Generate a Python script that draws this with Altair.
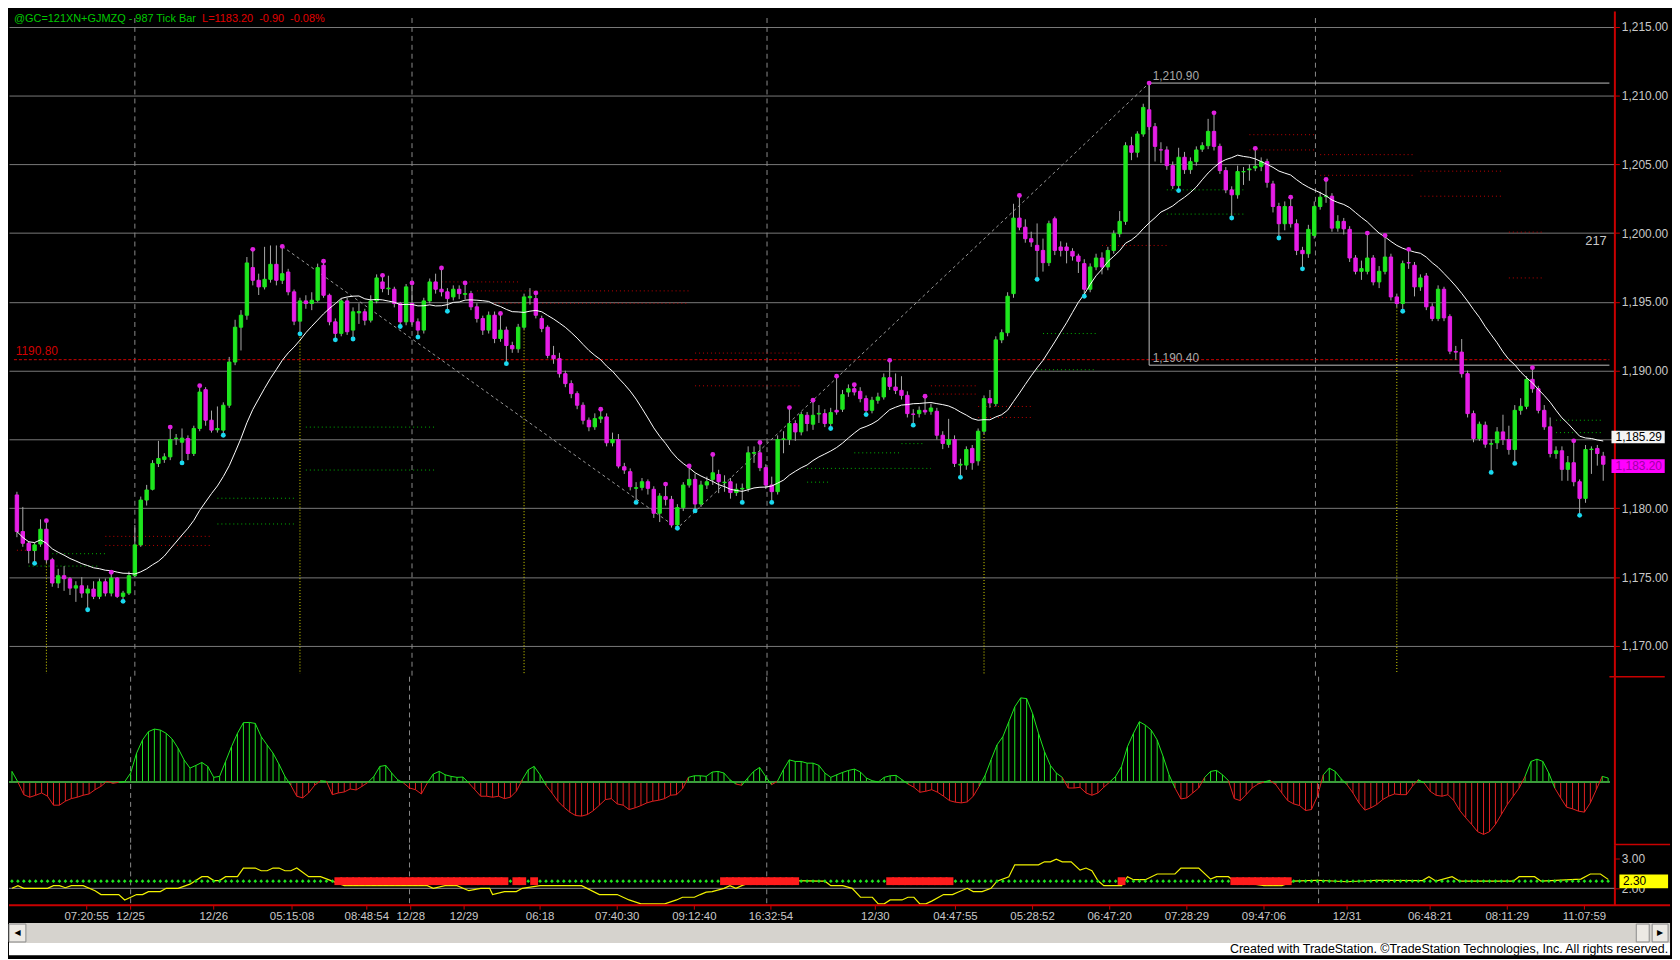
import altair as alt
import pandas as pd

# ---------------- data ----------------
OPEN = [1180.97, 1178.31, 1177.46, 1176.93, 1177.4, 1178.48, 1176.26, 1174.57, 1175.1, 1174.88,
        1174.2, 1174.37, 1173.84, 1174.13, 1173.6, 1174.66, 1173.84, 1174.93, 1173.6, 1173.84,
        1175.1, 1177.34, 1180.6, 1181.38, 1183.26, 1183.55, 1183.74, 1185.07, 1184.8, 1185.07,
        1183.98, 1185.8, 1188.62, 1186.4, 1185.7, 1185.68, 1187.49, 1190.63, 1193.16, 1194.03,
        1197.49, 1196.57, 1196.09, 1196.64, 1197.73, 1196.57, 1197.17, 1195.73, 1193.6, 1195.07,
        1194.88, 1195.12, 1197.66, 1195.48, 1193.55, 1192.71, 1195.07, 1192.95, 1194.2, 1194.28,
        1193.67, 1195.07, 1196.45, 1195.95, 1195.92, 1194.88, 1193.55, 1194.88, 1193.55, 1192.95,
        1195.07, 1196.45, 1195.92, 1195.73, 1195.36, 1195.92, 1195.55, 1195.6, 1194.64, 1193.79,
        1192.95, 1194.03, 1192.34, 1192.95, 1191.83, 1191.59, 1193.16, 1195.3, 1195.24, 1193.79,
        1193.16, 1191.11, 1190.87, 1189.78, 1189.06, 1188.33, 1187.49, 1186.4, 1185.92, 1186.5,
        1186.64, 1184.76, 1185.0, 1183.02, 1182.66, 1181.45, 1181.52, 1181.93, 1181.38, 1179.64,
        1180.85, 1180.65, 1178.79, 1180.05, 1181.69, 1182.1, 1180.31, 1181.69, 1182.1, 1182.46,
        1181.86, 1181.93, 1181.14, 1181.4, 1181.45, 1184.0, 1184.03, 1182.95, 1181.69, 1181.21,
        1185.0, 1185.0, 1186.16, 1185.55, 1186.76, 1186.11, 1186.85, 1186.88, 1186.16, 1187.12,
        1187.2, 1188.45, 1188.69, 1188.5, 1187.97, 1187.12, 1187.85, 1188.09, 1189.49, 1188.81,
        1188.57, 1188.21, 1186.85, 1186.88, 1187.12, 1187.05, 1187.05, 1185.31, 1184.64, 1185.0,
        1183.14, 1183.14, 1184.35, 1183.45, 1185.6, 1187.97, 1187.61, 1192.24, 1192.76, 1195.6,
        1201.09, 1200.43, 1199.59, 1199.11, 1198.74, 1197.85, 1201.04, 1198.99, 1198.99, 1198.67,
        1198.33, 1197.78, 1195.92, 1197.54, 1198.19, 1197.54, 1198.74, 1199.95, 1200.85, 1206.35,
        1205.87, 1207.2, 1208.96, 1207.73, 1206.05, 1206.04, 1204.9, 1203.45, 1205.51, 1204.61,
        1205.19, 1206.1, 1206.35, 1207.39, 1206.3, 1204.54, 1203.14, 1202.78, 1204.45, 1204.6,
        1204.73, 1204.85, 1205.19, 1203.57, 1201.93, 1200.68, 1201.93, 1200.68, 1198.74, 1198.5,
        1199.83, 1201.93, 1202.65, 1202.68, 1200.36, 1200.85, 1200.27, 1198.19, 1197.22, 1197.22,
        1198.19, 1196.45, 1197.22, 1198.26, 1195.36, 1194.88, 1197.85, 1197.66, 1196.09, 1196.88,
        1194.64, 1193.79, 1195.92, 1193.93, 1191.4, 1191.35, 1189.78, 1186.88, 1185.07, 1186.04,
        1184.66, 1184.76, 1185.55, 1185.0, 1184.27, 1187.12, 1187.41, 1189.37, 1188.69, 1187.12,
        1185.92, 1183.98, 1184.18, 1182.83, 1183.31, 1181.93, 1180.72, 1184.27, 1184.35, 1183.79]

HIGH = [1181.2, 1180.1, 1177.6, 1177.5, 1179.2, 1179.1, 1176.4, 1175.6, 1175.8, 1175.0,
        1174.7, 1175.0, 1174.4, 1174.7, 1174.9, 1174.9, 1175.35, 1175.0, 1174.0, 1175.4,
        1178.79, 1180.85, 1181.7, 1183.5, 1184.9, 1184.0, 1185.9, 1185.4, 1185.8, 1185.3,
        1186.0, 1188.91, 1188.8, 1187.1, 1187.4, 1187.7, 1191.0, 1193.7, 1194.4, 1198.26,
        1198.82, 1197.05, 1199.0, 1199.1, 1199.1, 1199.03, 1197.4, 1195.9, 1195.3, 1195.48,
        1195.7, 1197.78, 1197.95, 1195.6, 1193.8, 1195.24, 1195.3, 1194.6, 1194.9, 1194.5,
        1195.48, 1197.0, 1196.93, 1196.9, 1196.1, 1195.0, 1196.3, 1196.38, 1193.8, 1195.3,
        1196.7, 1197.05, 1197.46, 1196.0, 1196.2, 1196.2, 1196.38, 1195.8, 1194.9, 1194.0,
        1194.3, 1194.3, 1194.16, 1193.2, 1192.1, 1193.4, 1195.6, 1196.0, 1195.65, 1194.0,
        1193.3, 1191.8, 1191.3, 1190.0, 1189.3, 1188.5, 1187.7, 1186.6, 1186.9, 1187.2,
        1186.9, 1185.5, 1185.4, 1183.3, 1182.9, 1181.9, 1182.2, 1182.1, 1181.6, 1181.1,
        1181.76, 1180.9, 1180.3, 1181.9, 1183.07, 1182.5, 1182.0, 1182.3, 1183.91, 1182.8,
        1182.4, 1182.2, 1181.8, 1181.8, 1184.5, 1184.5, 1184.78, 1183.2, 1182.3, 1185.3,
        1185.6, 1187.32, 1186.4, 1187.0, 1187.0, 1187.85, 1187.5, 1187.2, 1187.3, 1189.6,
        1188.6, 1189.0, 1188.98, 1188.8, 1188.2, 1188.1, 1188.4, 1189.8, 1190.75, 1189.8,
        1189.6, 1188.5, 1187.2, 1187.4, 1188.14, 1187.6, 1187.3, 1185.6, 1186.5, 1185.3,
        1183.6, 1184.5, 1184.6, 1185.8, 1188.2, 1188.6, 1192.5, 1193.0, 1195.7, 1202.13,
        1202.73, 1201.0, 1200.1, 1200.7, 1199.6, 1200.9, 1201.2, 1199.4, 1199.3, 1198.9,
        1198.5, 1198.1, 1197.8, 1198.5, 1198.6, 1199.0, 1200.2, 1201.6, 1206.6, 1207.0,
        1207.4, 1209.4, 1210.9, 1208.0, 1206.6, 1206.3, 1205.2, 1206.2, 1205.9, 1205.5,
        1206.3, 1206.6, 1208.3, 1208.74, 1206.5, 1204.8, 1203.4, 1204.9, 1204.8, 1205.0,
        1206.16, 1205.5, 1205.4, 1203.8, 1202.2, 1202.3, 1202.61, 1201.0, 1199.0, 1200.6,
        1202.3, 1203.0, 1203.89, 1202.9, 1201.3, 1201.1, 1200.5, 1198.4, 1198.0, 1200.0,
        1198.4, 1197.6, 1199.83, 1198.5, 1195.6, 1198.0, 1198.82, 1197.9, 1197.0, 1197.1,
        1194.9, 1196.2, 1196.1, 1194.1, 1191.8, 1192.3, 1190.0, 1187.1, 1186.3, 1186.3,
        1185.0, 1185.9, 1186.8, 1186.0, 1187.5, 1188.0, 1189.6, 1190.22, 1188.9, 1187.5,
        1186.6, 1184.5, 1184.5, 1183.8, 1184.9, 1182.1, 1184.6, 1184.5, 1184.6, 1184.1]

LOW = [1177.9, 1177.2, 1176.0, 1176.0, 1177.2, 1176.0, 1174.3, 1174.2, 1174.0, 1173.7,
       1173.2, 1173.5, 1172.63, 1173.4, 1173.4, 1173.6, 1173.6, 1173.48, 1173.24, 1173.7,
       1175.0, 1177.2, 1180.2, 1181.3, 1183.0, 1183.3, 1183.5, 1184.6, 1183.3, 1183.5,
       1183.8, 1185.6, 1186.0, 1185.5, 1185.5, 1185.31, 1187.3, 1190.4, 1191.47, 1193.7,
       1196.2, 1195.5, 1195.9, 1196.4, 1196.2, 1196.3, 1195.48, 1193.31, 1192.68, 1194.5,
       1194.4, 1195.0, 1195.3, 1193.3, 1192.24, 1192.5, 1192.6, 1192.3, 1193.4, 1193.3,
       1193.5, 1194.9, 1195.7, 1195.5, 1194.6, 1193.21, 1193.3, 1193.3, 1192.44, 1192.7,
       1194.9, 1195.6, 1195.4, 1194.32, 1195.1, 1195.2, 1195.2, 1194.4, 1193.5, 1192.6,
       1192.7, 1192.0, 1192.1, 1190.51, 1191.3, 1191.3, 1193.0, 1194.8, 1193.8, 1192.8,
       1190.9, 1190.5, 1189.5, 1188.8, 1188.0, 1187.2, 1186.1, 1185.6, 1185.7, 1186.2,
       1184.5, 1184.5, 1182.9, 1182.5, 1181.3, 1180.43, 1181.3, 1181.0, 1179.3, 1179.0,
       1180.2, 1178.6, 1178.55, 1179.8, 1181.5, 1179.81, 1180.1, 1181.4, 1181.7, 1181.1,
       1181.2, 1180.7, 1180.9, 1180.43, 1181.2, 1183.3, 1182.7, 1181.4, 1180.43, 1181.0,
       1184.0, 1184.6, 1184.9, 1185.3, 1185.6, 1185.7, 1186.2, 1185.9, 1185.8, 1186.8,
       1187.0, 1188.1, 1188.2, 1187.7, 1186.81, 1186.9, 1187.6, 1187.9, 1188.6, 1188.3,
       1187.9, 1186.6, 1186.04, 1186.6, 1186.8, 1186.8, 1185.0, 1184.3, 1184.4, 1183.0,
       1182.25, 1182.8, 1182.8, 1183.1, 1185.4, 1187.3, 1187.4, 1192.0, 1192.5, 1195.3,
       1200.2, 1199.3, 1199.0, 1196.64, 1197.2, 1197.6, 1198.4, 1198.3, 1197.8, 1198.0,
       1197.1, 1195.41, 1195.7, 1197.3, 1197.0, 1197.3, 1198.5, 1199.7, 1200.6, 1205.3,
       1205.5, 1207.0, 1207.5, 1205.2, 1205.1, 1204.6, 1203.2, 1203.09, 1204.3, 1204.3,
       1204.9, 1205.9, 1206.1, 1206.0, 1204.3, 1202.9, 1201.1, 1202.5, 1203.5, 1203.8,
       1204.5, 1204.5, 1203.3, 1201.5, 1199.64, 1200.2, 1200.4, 1198.4, 1197.4, 1198.2,
       1199.6, 1201.7, 1202.2, 1200.1, 1200.1, 1199.9, 1197.9, 1197.0, 1196.6, 1197.0,
       1196.2, 1196.0, 1197.0, 1195.1, 1194.6, 1194.32, 1197.4, 1195.4, 1195.8, 1194.4,
       1193.6, 1193.6, 1193.6, 1191.2, 1190.8, 1189.5, 1186.6, 1184.8, 1184.9, 1184.4,
       1182.61, 1184.3, 1184.6, 1183.9, 1183.26, 1186.8, 1187.2, 1188.4, 1186.9, 1185.7,
       1183.7, 1183.6, 1182.0, 1182.0, 1181.6, 1179.49, 1180.4, 1182.5, 1183.1, 1182.0]

CLOSE = [1178.31, 1177.46, 1176.93, 1177.34, 1178.48, 1176.26, 1174.57, 1175.1, 1174.88, 1174.2,
         1174.37, 1173.84, 1174.13, 1173.6, 1174.66, 1173.84, 1174.93, 1173.6, 1173.84, 1175.1,
         1177.34, 1180.6, 1181.33, 1183.26, 1183.62, 1183.74, 1185.0, 1185.1, 1185.1, 1183.98,
         1185.8, 1188.45, 1186.4, 1185.68, 1185.8, 1187.49, 1190.63, 1193.16, 1194.03, 1197.83,
         1196.57, 1196.09, 1196.64, 1197.73, 1196.57, 1197.05, 1195.73, 1193.6, 1195.07, 1194.88,
         1195.12, 1197.49, 1195.48, 1193.55, 1192.71, 1195.07, 1192.83, 1194.28, 1194.3, 1193.67,
         1195.07, 1196.74, 1195.97, 1196.0, 1194.88, 1193.55, 1196.09, 1193.55, 1192.95, 1195.07,
         1196.45, 1195.92, 1195.73, 1195.24, 1195.92, 1195.6, 1195.6, 1194.64, 1193.79, 1192.95,
         1194.03, 1192.34, 1192.95, 1191.83, 1191.59, 1193.16, 1195.36, 1195.4, 1194.03, 1193.07,
         1191.11, 1190.87, 1189.78, 1189.06, 1188.33, 1187.49, 1186.4, 1185.92, 1186.52, 1186.64,
         1184.76, 1185.0, 1183.07, 1182.78, 1181.57, 1181.5, 1181.93, 1181.45, 1179.64, 1180.89,
         1180.65, 1178.79, 1180.05, 1181.69, 1182.1, 1180.31, 1181.69, 1181.93, 1182.58, 1181.93,
         1181.9, 1181.14, 1181.38, 1181.45, 1184.03, 1184.05, 1182.95, 1181.69, 1181.21, 1185.0,
         1185.05, 1186.16, 1185.55, 1186.81, 1186.16, 1186.76, 1186.9, 1186.16, 1186.96, 1187.0,
         1188.26, 1188.69, 1188.45, 1187.97, 1187.12, 1187.85, 1188.09, 1189.49, 1188.86, 1188.57,
         1188.21, 1186.88, 1186.83, 1187.12, 1187.0, 1187.29, 1185.31, 1184.71, 1185.0, 1183.26,
         1183.2, 1184.27, 1183.31, 1185.6, 1187.97, 1187.66, 1192.24, 1192.76, 1195.41, 1201.09,
         1200.43, 1199.59, 1199.35, 1198.74, 1197.85, 1200.68, 1198.74, 1198.74, 1198.74, 1198.33,
         1197.95, 1195.92, 1197.54, 1198.19, 1197.54, 1198.74, 1199.95, 1200.85, 1206.35, 1205.87,
         1207.2, 1209.13, 1207.73, 1206.3, 1206.04, 1204.9, 1203.45, 1205.51, 1204.61, 1205.19,
         1206.04, 1206.35, 1207.39, 1206.3, 1204.54, 1203.14, 1202.78, 1204.47, 1204.47, 1204.66,
         1204.85, 1205.19, 1203.69, 1201.93, 1200.68, 1201.93, 1200.68, 1198.74, 1198.5, 1200.27,
         1201.93, 1202.61, 1202.7, 1200.36, 1200.85, 1200.31, 1198.19, 1197.22, 1197.42, 1198.19,
         1196.45, 1197.22, 1198.26, 1195.36, 1194.88, 1197.78, 1197.83, 1196.09, 1196.74, 1194.64,
         1193.79, 1195.92, 1193.84, 1191.42, 1191.35, 1189.78, 1186.88, 1185.07, 1186.11, 1184.66,
         1184.7, 1185.55, 1185.0, 1184.27, 1187.12, 1187.41, 1189.37, 1188.69, 1187.12, 1185.92,
         1183.98, 1184.18, 1182.83, 1183.31, 1181.93, 1180.72, 1184.27, 1184.3, 1183.98, 1183.2]

OSC = [10.7, 0, -12.7, -15.3, -13.3, -11, -14.3, -23.3, -23.3, -19.3,
       -16.7, -15.3, -13.3, -12, -7.7, -4.3, 0.7, -1.3, -0.3, 0.3,
       9, 29, 42.3, 50.7, 53.3, 52.3, 49, 43.3, 34, 22.3,
       14, 16.7, 19.7, 15.7, 4.7, 5.7, 20.7, 35.7, 49, 59.7,
       60, 59, 45.7, 37.3, 29, 18, 5.7, -3.3, -14.3, -16,
       -11, -3.3, 1.3, 0.7, -12.7, -11, -10, -7, -8, -4.3,
       -0.3, 5.7, 15.7, 16.7, 9, 2.3, -1, -6, -7.7, -12,
       -1, 8, 10.7, 7.3, 5.7, 4.7, 5, -1, -7.7, -14.3,
       -14.3, -15.3, -14.3, -16.7, -15.3, -9.3, 2.3, 12.3, 15.7, 7.3,
       -3.3, -11, -19.3, -25.3, -30.3, -33.7, -34.3, -32.7, -28.7, -23.3,
       -17.7, -16.7, -22, -23.3, -27.7, -26, -23.7, -21, -19.3, -18.3,
       -16.7, -13.3, -12.7, -7, 4.7, 6.3, 6.3, 5.7, 10, 10.7,
       9, 2.3, -2, -3.3, 4, 10.7, 14.7, 5.7, -2.7, 0.7,
       12.3, 22.3, 20.7, 20.7, 19, 19, 16.7, 9, 4.7, 7.3,
       9.7, 11.7, 13, 10, 4, 1.3, 0, 4.7, 6.3, 6.7,
       2.3, -2, -5.3, -10.3, -9.3, -7.7, -10.3, -14.3, -18.7, -20.3,
       -21, -20, -14.3, -4.3, 6.7, 22.3, 37.3, 45.7, 60.7, 75.7,
       84.7, 84, 69, 49, 30.7, 16.7, 9, 4.7, -6, -6,
       -5.3, -11, -13.3, -11, -5.3, 0, 5.7, 15.7, 35.7, 49,
       60.7, 57.3, 52.3, 42.3, 25.7, 7.3, -6, -17, -16, -11,
       -6, 4.7, 10.7, 11.7, 7.3, 1.5, -16.7, -18.7, -12.7, -6,
       -2, 0, 1.7, -2.7, -11, -18.7, -22, -23.7, -28.7, -27.7,
       -14.3, 7.3, 14, 10.7, 3.3, -2.7, -11, -21, -28.3, -26,
       -22.7, -17.7, -14.3, -12, -12.7, -12.7, -4.3, 2.3, -1, -9.3,
       -13.3, -14.3, -12.7, -18.7, -28.7, -36, -42.7, -50, -52.7, -50,
       -42.7, -32.7, -22.7, -14.3, -6, 5.7, 20.7, 23, 20.7, 9,
       -6, -16, -25.3, -27, -29.3, -30.3, -21, -7.7, 5.7, 4]

PIVOT_HIGH_BARS = [5, 16, 26, 31, 40, 45, 52, 62, 67, 72, 76, 82, 88, 99, 110, 114, 118, 126,
                   131, 135, 139, 142, 148, 154, 170, 192, 203, 210, 216, 222, 229, 232, 236,
                   257, 264]
PIVOT_LOW_BARS = [3, 12, 18, 28, 35, 48, 54, 57, 65, 68, 73, 83, 105, 112, 115, 123, 128, 138,
                  144, 152, 160, 173, 181, 197, 206, 214, 218, 235, 250, 254, 265]

# (from bar, to bar, price, side) dotted support / resistance levels
LEVELS = [(15, 33, 1177.96, "red"), (15, 33, 1177.3, "red"), (0, 3, 1176.95, "red"),
          (6, 15, 1176.7, "green"), (2, 14, 1175.8, "green"),
          (34, 47, 1180.73, "green"), (34, 47, 1178.86, "green"),
          (49, 71, 1185.9, "green"), (49, 71, 1182.78, "green"),
          (72, 85, 1196.45, "red"), (78, 114, 1195.8, "red"), (81, 114, 1194.9, "red"),
          (115, 133, 1191.28, "red"), (115, 133, 1188.9, "red"),
          (134, 155, 1182.9, "green"), (134, 138, 1181.9, "green"),
          (142, 150, 1184.03, "green"), (150, 154, 1184.7, "green"),
          (155, 163, 1188.9, "red"), (155, 163, 1188.3, "red"),
          (163, 172, 1187.4, "red"), (163, 172, 1186.6, "red"),
          (173, 183, 1190.07, "green"), (174, 183, 1192.7, "green"),
          (184, 195, 1199.1, "red"),
          (195, 208, 1203.14, "green"), (195, 208, 1201.38, "green"),
          (209, 220, 1207.15, "red"), (209, 220, 1206.04, "red"),
          (221, 237, 1205.7, "red"), (221, 237, 1204.2, "red"),
          (238, 252, 1204.5, "red"), (238, 252, 1202.68, "red"),
          (253, 259, 1200.07, "red"), (253, 259, 1196.74, "red"),
          (261, 269, 1186.4, "green"), (261, 269, 1185.5, "green")]

SEPARATOR_BARS = [20, 67, 127.2, 220.2]
SIGNAL_BARS = [5, 48, 86, 164, 234]
ZIGZAG_BARS = [45, 112, 192]
ZIGZAG_PRICES = [1199.03, 1178.55, 1210.9]
SWING_HIGH, SWING_LOW, SWING_BAR = 1210.9, 1190.4, 192
REF_LINE = 1190.8
PRICE_TICKS = [1170, 1175, 1180, 1185, 1190, 1195, 1200, 1205, 1210, 1215]
MA_LAST, LAST_PRICE = "1,185.29", "1,183.20"

YELLOW_LINE = [(0, 2.0), (1, 2.09), (2, 2.0), (6, 2.0), (7, 2.09), (8, 2.09), (9, 2.02), (10, 2.09),
               (12, 2.09), (14, 1.92), (15, 1.79), (18, 1.79), (19, 1.61), (21, 1.79), (22, 1.79),
               (23, 1.89), (25, 1.89), (26, 2.0), (28, 2.0), (30, 2.14), (32, 2.39), (33, 2.39),
               (34, 2.26), (35, 2.26), (36, 2.39), (38, 2.39), (39, 2.68), (41, 2.68), (42, 2.59),
               (43, 2.59), (44, 2.68), (45, 2.68), (46, 2.59), (47, 2.59), (48, 2.68), (50, 2.39),
               (52, 2.39), (54, 2.24), (56, 2.09), (68, 2.09), (70, 2.09), (71, 2.0), (73, 2.09),
               (75, 2.09), (77, 1.92), (79, 2.0), (80.5, 2.0), (81, 1.79), (83, 1.89), (85, 1.89),
               (86, 2.0), (89, 2.09), (96, 2.09), (99, 1.79), (102, 1.79), (104, 1.61), (106, 1.48),
               (110, 1.48), (112, 1.61), (113, 1.7), (115, 1.7), (116, 1.79), (117, 1.87), (118, 1.89),
               (120, 2.0), (121, 2.09), (122, 2.0), (123, 2.09), (125, 2.24), (128, 2.3), (132, 2.26),
               (136, 2.24), (137, 2.24), (138, 2.09), (140, 2.09), (141.6, 2.0), (143, 1.7), (145, 1.7),
               (146, 1.48), (147, 1.48), (148, 1.61), (150, 1.61), (151, 1.7), (152, 1.7), (153, 1.48),
               (154, 1.48), (155, 1.57), (157, 1.79), (158.5, 1.79), (159.4, 1.87), (161, 2.0),
               (162, 1.89), (163.5, 1.89), (165, 2.0), (166, 2.24), (168, 2.39), (169, 2.79),
               (173, 2.79), (174, 2.89), (175, 2.89), (176, 2.98), (177, 2.89), (178.5, 2.89),
               (180, 2.61), (181, 2.68), (182, 2.59), (183, 2.26), (184, 2.09), (187, 2.09),
               (188, 2.39), (189, 2.29), (191, 2.29), (193, 2.48), (196, 2.48), (197, 2.68),
               (200, 2.68), (202, 2.31), (203, 2.39), (205, 2.39), (206, 2.24), (211, 2.09),
               (214, 2.09), (216, 2.24), (220, 2.27), (225, 2.22), (230, 2.27), (237.7, 2.26),
               (238.8, 2.39), (240, 2.24), (242.7, 2.39), (244, 2.24), (253, 2.24), (254, 2.39),
               (256.6, 2.39), (257.7, 2.24), (264.4, 2.31), (266, 2.48), (267.7, 2.48), (269, 2.3)]
DOT_LEVEL = 2.24
RED_DOT_RANGES = [(55, 83), (85, 86), (88, 88), (120, 132), (148, 158), (187, 187), (206, 215)]

TIME_LABELS = ["07:20:55", "12/25", "12/26", "05:15:08", "08:48:54", "12/28", "12/29", "06:18",
               "07:40:30", "09:12:40", "16:32:54", "12/30", "04:47:55", "05:28:52", "06:47:20",
               "07:28:29", "09:47:06", "12/31", "06:48:21", "08:11:29", "11:07:59"]
TIME_BARS = [12.6, 20.0, 34.0, 47.2, 59.8, 67.2, 76.2, 89.0, 102.0, 115.0, 127.9, 145.5, 159.0,
             172.0, 185.0, 198.0, 211.0, 225.0, 239.0, 252.0, 265.0]

TITLE_SYMBOL = "@GC=121XN+GJMZQ - 987 Tick Bar"
TITLE_QUOTE = "L=1183.20\u00a0\u00a0-0.90\u00a0\u00a0-0.08%"
FOOTER = "Created with TradeStation. \u00a9TradeStation Technologies, Inc. All rights reserved."

# ---------------- layout / style ----------------
N = len(CLOSE)
XMIN, XMAX, XRIGHT = -0.5, 270.05, 279.43
PMIN, PMAX = 1167.76, 1216.13
OMIN, OMAX = -63.0, 106.0
BMIN, BMAX = 1.433, 3.467
PLOT_W = 1616

FONT = "Liberation Sans, Arial, sans-serif"
GREEN = "#1ee61e"
MAGENTA = "#e61ee6"
CYAN = "#19d9f0"
RED = "#e02020"
AXRED = "#c80000"
GRID = "#7a7a7a"
LABEL = "#c8c8c8"

XS = alt.Scale(domain=[XMIN, XMAX], nice=False, zero=False)
PS = alt.Scale(domain=[PMIN, PMAX], nice=False, zero=False)
OS = alt.Scale(domain=[OMIN, OMAX], nice=False, zero=False)
BS = alt.Scale(domain=[BMIN, BMAX], nice=False, zero=False)

PAX = alt.Axis(orient="right", values=PRICE_TICKS,
               labelExpr="datum.value == 1185 ? '' : format(datum.value, ',.2f')",
               title=None, grid=True, gridColor=GRID, gridWidth=1,
               domainColor=AXRED, domainWidth=2, tickColor=AXRED, tickSize=5,
               labelColor=LABEL, labelFont=FONT, labelFontSize=12, labelPadding=2)
OAX = alt.Axis(orient="right", title=None, grid=False, labels=False, ticks=False,
               domainColor=AXRED, domainWidth=2)
BAX = alt.Axis(orient="right", values=[2, 3], format=".2f", title=None, grid=False,
               domainColor=AXRED, domainWidth=2, tickColor=AXRED, tickSize=5,
               labelColor=LABEL, labelFont=FONT, labelFontSize=12, labelPadding=2)


def xq(f):
    return alt.X(f"{f}:Q", scale=XS, axis=None)


def yp(f):
    return alt.Y(f"{f}:Q", scale=PS, axis=PAX)


def yo(f):
    return alt.Y(f"{f}:Q", scale=OS, axis=OAX)


def yb(f):
    return alt.Y(f"{f}:Q", scale=BS, axis=BAX)


def text_layer(df, yfun, **kw):
    return alt.Chart(df).mark_text(font=FONT, **kw).encode(x=xq("i"), y=yfun("p"), text="t:N")


# ---------------- price pane ----------------
candles = pd.DataFrame({"i": list(range(N)), "O": OPEN, "H": HIGH, "L": LOW, "C": CLOSE})
up_cond = "datum.C >= datum.O"

sep_p = pd.DataFrame({"i": SEPARATOR_BARS, "top": [PMAX - 0.5] * len(SEPARATOR_BARS),
                      "bot": [PMIN] * len(SEPARATOR_BARS)})
seps_price = alt.Chart(sep_p).mark_rule(color="#8a8a8a", strokeDash=[5, 4], strokeWidth=1).encode(
    x=xq("i"), y=yp("top"), y2=alt.Y2("bot"))

lev = pd.DataFrame(LEVELS, columns=["s", "e", "p", "side"])
lev_red = alt.Chart(lev).transform_filter("datum.side == 'red'").mark_rule(
    color="#c00000", strokeDash=[1, 3], strokeWidth=1).encode(x=xq("s"), x2=alt.X2("e"), y=yp("p"))
lev_green = alt.Chart(lev).transform_filter("datum.side == 'green'").mark_rule(
    color="#00b400", strokeDash=[1, 3], strokeWidth=1).encode(x=xq("s"), x2=alt.X2("e"), y=yp("p"))

ref = pd.DataFrame({"s": [XMIN], "e": [XMAX], "p": [REF_LINE]})
ref_line = alt.Chart(ref).mark_rule(color="#d00000", strokeDash=[3, 2], strokeWidth=1).encode(
    x=xq("s"), x2=alt.X2("e"), y=yp("p"))

sig = pd.DataFrame({"i": SIGNAL_BARS, "top": [LOW[b] for b in SIGNAL_BARS],
                    "bot": [1167.98] * len(SIGNAL_BARS)})
signals = alt.Chart(sig).mark_rule(color="#e0e000", strokeDash=[1, 2], strokeWidth=1).encode(
    x=xq("i"), y=yp("top"), y2=alt.Y2("bot"))

zz = pd.DataFrame({"i": ZIGZAG_BARS, "p": ZIGZAG_PRICES})
zigzag = alt.Chart(zz).mark_line(color="#9a9a9a", strokeDash=[3, 3], strokeWidth=1).encode(
    x=xq("i"), y=yp("p"))

box = pd.DataFrame({"s": [SWING_BAR, SWING_BAR, SWING_BAR], "e": [XMAX, SWING_BAR, XMAX],
                    "p": [SWING_HIGH, SWING_LOW, SWING_LOW], "p2": [SWING_HIGH, SWING_HIGH, SWING_LOW]})
box_lines = alt.Chart(box).mark_rule(color="#bdbdbd", strokeWidth=1).encode(
    x=xq("s"), x2=alt.X2("e"), y=yp("p"), y2=alt.Y2("p2"))

wicks = alt.Chart(candles).mark_rule(color="#a8a8a8", strokeWidth=1).encode(
    x=xq("i"), y=yp("L"), y2=alt.Y2("H"))
bodies = alt.Chart(candles).mark_bar(width=3.4, strokeWidth=1).encode(
    x=xq("i"), y=yp("O"), y2=alt.Y2("C"),
    color=alt.condition(up_cond, alt.value(GREEN), alt.value(MAGENTA)),
    stroke=alt.condition(up_cond, alt.value(GREEN), alt.value(MAGENTA)))
ma = alt.Chart(candles).transform_window(
    ma="mean(C)", frame=[-19, 0], sort=[alt.SortField("i")]).mark_line(
    color="#ffffff", strokeWidth=1).encode(x=xq("i"), y=yp("ma"))

ph = pd.DataFrame({"i": PIVOT_HIGH_BARS, "p": [HIGH[b] for b in PIVOT_HIGH_BARS]})
pl = pd.DataFrame({"i": PIVOT_LOW_BARS, "p": [LOW[b] for b in PIVOT_LOW_BARS]})
dots_hi = alt.Chart(ph).mark_circle(size=24, color="#e020e0", opacity=1).encode(x=xq("i"), y=yp("p"))
dots_lo = alt.Chart(pl).mark_circle(size=24, color=CYAN, opacity=1).encode(x=xq("i"), y=yp("p"))

t_sym = text_layer(pd.DataFrame({"i": [XMIN], "p": [1215.55], "t": [TITLE_SYMBOL]}), yp,
                   align="left", baseline="middle", fontSize=11, color="#00c800")
t_quote = text_layer(pd.DataFrame({"i": [31.4], "p": [1215.55], "t": [TITLE_QUOTE]}), yp,
                     align="left", baseline="middle", fontSize=11, color="#e00000")
t_ref = text_layer(pd.DataFrame({"i": [XMIN + 0.3], "p": [1190.95], "t": ["1190.80"]}), yp,
                   align="left", baseline="bottom", fontSize=12, color="#d00000")
t_swing = text_layer(pd.DataFrame({"i": [192.6, 192.6], "p": [1211.44, 1190.92],
                                   "t": ["1,210.90", "1,190.40"]}), yp,
                     align="left", baseline="middle", fontSize=12, color="#a8a8a8")
t_count = text_layer(pd.DataFrame({"i": [269.6], "p": [1199.45], "t": ["217"]}), yp,
                     align="right", baseline="middle", fontSize=13, color="#c8c8c8")

axis_sep_p = alt.Chart(pd.DataFrame({"s": [XMAX], "e": [XRIGHT], "p": [PMIN]})).mark_rule(
    color=AXRED, strokeWidth=1.5).encode(x=xq("s"), x2=alt.X2("e"), y=yp("p"))
tag_box = pd.DataFrame({"s": [270.4, 270.4], "e": [XRIGHT, XRIGHT],
                        "p": [1184.72, 1182.56], "p2": [1185.63, 1183.57], "k": ["ma", "last"]})
tag_ma = alt.Chart(tag_box).transform_filter("datum.k == 'ma'").mark_rect(color="#f4f4f4").encode(
    x=xq("s"), x2=alt.X2("e"), y=yp("p"), y2=alt.Y2("p2"))
tag_last = alt.Chart(tag_box).transform_filter("datum.k == 'last'").mark_rect(color="#ff00ff").encode(
    x=xq("s"), x2=alt.X2("e"), y=yp("p"), y2=alt.Y2("p2"))
t_tag_ma = text_layer(pd.DataFrame({"i": [271.1], "p": [1185.17], "t": [MA_LAST]}), yp,
                      align="left", baseline="middle", fontSize=12, color="#000000")
t_tag_last = text_layer(pd.DataFrame({"i": [271.1], "p": [1183.07], "t": [LAST_PRICE]}), yp,
                        align="left", baseline="middle", fontSize=12, color="#a000a8")

price = alt.layer(seps_price, lev_red, lev_green, ref_line, signals, zigzag, box_lines,
                  wicks, bodies, ma, dots_hi, dots_lo, t_sym, t_quote, t_ref, t_swing, t_count,
                  axis_sep_p, tag_ma, tag_last, t_tag_ma, t_tag_last).properties(width=PLOT_W, height=670)

# ---------------- oscillator pane ----------------
osc = pd.DataFrame({"i": list(range(N)), "v": OSC, "z": [0.0] * N})
sep_o = pd.DataFrame({"i": SEPARATOR_BARS, "top": [OMAX] * len(SEPARATOR_BARS),
                      "bot": [OMIN] * len(SEPARATOR_BARS)})
seps_osc = alt.Chart(sep_o).mark_rule(color="#8a8a8a", strokeDash=[5, 4], strokeWidth=1).encode(
    x=xq("i"), y=yo("top"), y2=alt.Y2("bot"))
hist = alt.Chart(osc).mark_rule(strokeWidth=1).encode(
    x=xq("i"), y=yo("v"), y2=alt.Y2("z"),
    color=alt.condition("datum.v >= 0", alt.value(GREEN), alt.value(RED)))
zero = alt.Chart(pd.DataFrame({"s": [XMIN], "e": [269.3], "p": [0.0]})).mark_rule(
    color="#3c9c3c", strokeWidth=2).encode(x=xq("s"), x2=alt.X2("e"), y=yo("p"))
outline = alt.Chart(osc).transform_window(
    vn="lead(v)", sort=[alt.SortField("i")]).transform_filter(
    "isValid(datum.vn)").transform_calculate(
    i2="datum.i + 1", sv="datum.v + datum.vn").mark_rule(strokeWidth=1).encode(
    x=xq("i"), x2=alt.X2("i2"), y=yo("v"), y2=alt.Y2("vn"),
    color=alt.condition("datum.sv >= 0", alt.value(GREEN), alt.value(RED)))
axis_sep_o = alt.Chart(pd.DataFrame({"s": [XMAX], "e": [XRIGHT], "p": [OMIN]})).mark_rule(
    color=AXRED, strokeWidth=1.5).encode(x=xq("s"), x2=alt.X2("e"), y=yo("p"))

osc_pane = alt.layer(seps_osc, hist, zero, outline, axis_sep_o).properties(width=PLOT_W, height=169)

# ---------------- bottom pane ----------------
sep_b = pd.DataFrame({"i": SEPARATOR_BARS, "top": [BMAX] * len(SEPARATOR_BARS),
                      "bot": [BMIN] * len(SEPARATOR_BARS)})
seps_bot = alt.Chart(sep_b).mark_rule(color="#8a8a8a", strokeDash=[5, 4], strokeWidth=1).encode(
    x=xq("i"), y=yb("top"), y2=alt.Y2("bot"))
base2 = alt.Chart(pd.DataFrame({"s": [XMIN], "e": [XMAX], "p": [2.0]})).mark_rule(
    color="#8c8c8c", strokeWidth=1).encode(x=xq("s"), x2=alt.X2("e"), y=yb("p"))
yel = pd.DataFrame(YELLOW_LINE, columns=["i", "p"])
yellow = alt.Chart(yel).mark_line(color="#f2f200", strokeWidth=1.2).encode(x=xq("i"), y=yb("p"))

states = []
for b in range(N):
    states.append("red" if any(a <= b <= z for a, z in RED_DOT_RANGES) else "green")
dots = pd.DataFrame({"i": list(range(N)), "p": [DOT_LEVEL] * N, "st": states})
green_dots = alt.Chart(dots).transform_filter("datum.st == 'green'").mark_point(
    shape="diamond", filled=True, size=14, color=GREEN, opacity=1).encode(x=xq("i"), y=yb("p"))
red_dots = alt.Chart(dots).transform_filter("datum.st == 'red'").mark_square(
    size=62, color="#ff1c1c", opacity=1).encode(x=xq("i"), y=yb("p"))

baseline = alt.Chart(pd.DataFrame({"s": [XMIN], "e": [XRIGHT], "p": [BMIN]})).mark_rule(
    color=AXRED, strokeWidth=2).encode(x=xq("s"), x2=alt.X2("e"), y=yb("p"))
tk = pd.DataFrame({"i": TIME_BARS, "p": [BMIN] * len(TIME_BARS), "p2": [BMIN - 0.15] * len(TIME_BARS)})
ticks = alt.Chart(tk).mark_rule(color=AXRED, strokeWidth=1).encode(
    x=xq("i"), y=yb("p"), y2=alt.Y2("p2"))
t_time = text_layer(pd.DataFrame({"i": TIME_BARS, "p": [1.03] * len(TIME_BARS), "t": TIME_LABELS}), yb,
                    align="center", baseline="middle", fontSize=11.5, color=LABEL)

ybox = alt.Chart(pd.DataFrame({"s": [270.9], "e": [279.1], "p": [2.0], "p2": [2.467]})).mark_rect(
    color="#ffff00").encode(x=xq("s"), x2=alt.X2("e"), y=yb("p"), y2=alt.Y2("p2"))
t_ybox = text_layer(pd.DataFrame({"i": [271.5], "p": [2.235], "t": ["2.30"]}), yb,
                    align="left", baseline="middle", fontSize=12, color="#000000")

scroll = pd.DataFrame({"s": [XMIN, XMIN, 273.74, 276.42], "e": [XRIGHT, 2.35, 275.92, 279.1],
                       "p": [0.167, 0.2, 0.2, 0.2], "p2": [0.833, 0.8, 0.8, 0.8],
                       "k": ["track", "btn", "btn", "btn"]})
track = alt.Chart(scroll).transform_filter("datum.k == 'track'").mark_rect(color="#d6d3ce").encode(
    x=xq("s"), x2=alt.X2("e"), y=yb("p"), y2=alt.Y2("p2"))
buttons = alt.Chart(scroll).transform_filter("datum.k == 'btn'").mark_rect(
    color="#ece9e4", stroke="#8a8a8a", strokeWidth=1).encode(
    x=xq("s"), x2=alt.X2("e"), y=yb("p"), y2=alt.Y2("p2"))
arrows = alt.Chart(pd.DataFrame({"i": [0.95, 277.76], "p": [0.5, 0.5], "t": ["\u25c0", "\u25b6"]})).mark_text(
    font="DejaVu Sans", fontSize=8, color="#000000", align="center", baseline="middle").encode(
    x=xq("i"), y=yb("p"), text="t:N")
footer_bg = alt.Chart(pd.DataFrame({"s": [XMIN], "e": [XRIGHT], "p": [-0.25], "p2": [0.167]})).mark_rect(
    color="#ffffff").encode(x=xq("s"), x2=alt.X2("e"), y=yb("p"), y2=alt.Y2("p2"))
t_footer = text_layer(pd.DataFrame({"i": [279.1], "p": [-0.04], "t": [FOOTER]}), yb,
                      align="right", baseline="middle", fontSize=12.5, color="#000000")

bottom = alt.layer(seps_bot, base2, yellow, green_dots, red_dots, baseline, ticks, t_time,
                   ybox, t_ybox, track, buttons, arrows, footer_bg, t_footer).properties(
    width=PLOT_W, height=61)

chart = alt.vconcat(price, osc_pane, bottom, spacing=0, bounds="flush", padding=0).resolve_scale(
    y="independent").configure(background="#000000").configure_view(strokeWidth=0)

chart.save("out.html", embed_options={"renderer": "svg", "actions": False})
